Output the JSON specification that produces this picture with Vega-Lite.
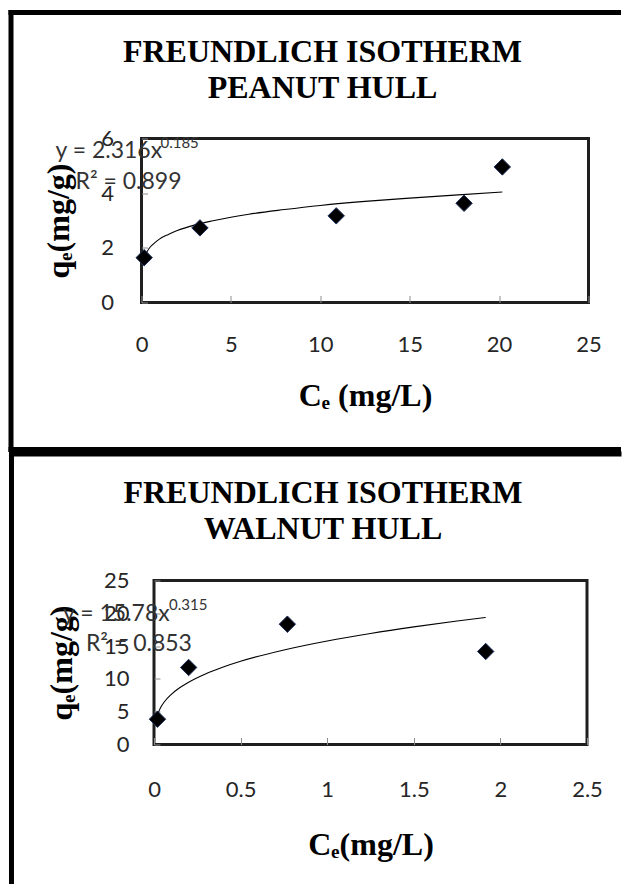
{
  "$schema": "https://vega.github.io/schema/vega-lite/v6.json",
  "padding": {"left": 5.5, "top": 6.5, "right": 0, "bottom": 0},
  "background": "white",
  "spacing": -7,
  "datasets": {
    "peanut": [{"ce": 0.15, "qe": 1.64}, {"ce": 3.27, "qe": 2.73}, {"ce": 10.89, "qe": 3.17}, {"ce": 18.04, "qe": 3.63}, {"ce": 20.18, "qe": 4.96}],
    "peanut_fit": [{"ce": 0.15, "qe": 1.63}, {"ce": 0.3, "qe": 1.85}, {"ce": 0.5, "qe": 2.04}, {"ce": 0.75, "qe": 2.19}, {"ce": 1, "qe": 2.32}, {"ce": 1.5, "qe": 2.49}, {"ce": 2, "qe": 2.63}, {"ce": 3, "qe": 2.84}, {"ce": 4, "qe": 2.99}, {"ce": 5, "qe": 3.12}, {"ce": 6, "qe": 3.23}, {"ce": 8, "qe": 3.40}, {"ce": 10, "qe": 3.55}, {"ce": 12.5, "qe": 3.70}, {"ce": 15, "qe": 3.82}, {"ce": 17.5, "qe": 3.93}, {"ce": 20.18, "qe": 4.04}],
    "walnut": [{"ce": 0.02, "qe": 3.86}, {"ce": 0.2, "qe": 11.74}, {"ce": 0.77, "qe": 18.34}, {"ce": 1.915, "qe": 14.18}],
    "walnut_fit": [{"ce": 0.02, "qe": 4.60}, {"ce": 0.04, "qe": 5.73}, {"ce": 0.06, "qe": 6.51}, {"ce": 0.1, "qe": 7.64}, {"ce": 0.15, "qe": 8.68}, {"ce": 0.2, "qe": 9.50}, {"ce": 0.3, "qe": 10.80}, {"ce": 0.4, "qe": 11.82}, {"ce": 0.5, "qe": 12.69}, {"ce": 0.75, "qe": 14.41}, {"ce": 1, "qe": 15.78}, {"ce": 1.25, "qe": 16.93}, {"ce": 1.5, "qe": 17.93}, {"ce": 1.75, "qe": 18.82}, {"ce": 1.915, "qe": 19.36}],
    "one": [{}],
    "eq_peanut": [{"label": "y = 2.316x", "exp": "0.185", "r2": "R² = 0.899"}],
    "eq_walnut": [{"label": "y = 15.78x", "exp": "0.315", "r2": "R² = 0.853"}]
  },
  "vconcat": [
    {
      "width": 447,
      "height": 164,
      "title": {"text": ["FREUNDLICH ISOTHERM", "PEANUT HULL"], "font": "Liberation Serif", "fontSize": 32, "fontWeight": "bold", "color": "black", "lineHeight": 36, "baseline": "bottom", "anchor": "middle", "frame": "bounds", "offset": -127.6, "dx": 7.75},
      "layer": [
        {"data": {"name": "one"}, "mark": {"type": "rule", "color": "black", "strokeWidth": 5, "strokeCap": "square"},
         "encoding": {"x": {"datum": -7.299, "type": "quantitative", "scale": {"domain": [0, 25], "nice": false, "zero": false}, "axis": {"title": "Cₑ (mg/L)", "values": [0, 5, 10, 15, 20, 25], "labelPadding": 39, "titlePadding": 25}}, "x2": {"datum": 26.678},
                      "y": {"datum": 10.61, "type": "quantitative", "scale": {"domain": [0, 6], "nice": false, "zero": false}, "axis": {"title": "qₑ(mg/g)", "values": [0, 2, 4, 6], "labelPadding": 34, "titlePadding": 25, "tickSize": -6}}}},
        {"data": {"name": "one"}, "mark": {"type": "rule", "color": "black", "strokeWidth": 5, "strokeCap": "square"},
         "encoding": {"x": {"datum": -7.299, "type": "quantitative", "scale": {"domain": [0, 25], "nice": false, "zero": false}, "axis": {"title": "Cₑ (mg/L)", "values": [0, 5, 10, 15, 20, 25], "labelPadding": 39, "titlePadding": 25}}, "x2": {"datum": 26.678},
                      "y": {"datum": -5.379, "type": "quantitative", "scale": {"domain": [0, 6], "nice": false, "zero": false}, "axis": {"title": "qₑ(mg/g)", "values": [0, 2, 4, 6], "labelPadding": 34, "titlePadding": 25, "tickSize": -6}}}},
        {"data": {"name": "one"}, "mark": {"type": "rule", "color": "black", "strokeWidth": 5, "strokeCap": "square"},
         "encoding": {"x": {"datum": -7.299, "type": "quantitative", "scale": {"domain": [0, 25], "nice": false, "zero": false}, "axis": {"title": "Cₑ (mg/L)", "values": [0, 5, 10, 15, 20, 25], "labelPadding": 39, "titlePadding": 25}},
                      "y": {"datum": 10.61, "type": "quantitative", "scale": {"domain": [0, 6], "nice": false, "zero": false}, "axis": {"title": "qₑ(mg/g)", "values": [0, 2, 4, 6], "labelPadding": 34, "titlePadding": 25, "tickSize": -6}}, "y2": {"datum": -5.379}}},
        {"data": {"name": "peanut_fit"}, "mark": {"type": "line", "color": "black", "strokeWidth": 1.1, "interpolate": "monotone"},
         "encoding": {"x": {"field": "ce", "type": "quantitative", "scale": {"domain": [0, 25], "nice": false, "zero": false}, "axis": {"title": "Cₑ (mg/L)", "values": [0, 5, 10, 15, 20, 25], "labelPadding": 39, "titlePadding": 25}},
                      "y": {"field": "qe", "type": "quantitative", "scale": {"domain": [0, 6], "nice": false, "zero": false}, "axis": {"title": "qₑ(mg/g)", "values": [0, 2, 4, 6], "labelPadding": 34, "titlePadding": 25, "tickSize": -6}}}},
        {"data": {"name": "peanut"}, "mark": {"type": "point", "shape": "diamond", "filled": true, "size": 270, "color": "black", "stroke": "#1c2f5c", "strokeWidth": 1, "opacity": 1},
         "encoding": {"x": {"field": "ce", "type": "quantitative", "scale": {"domain": [0, 25], "nice": false, "zero": false}, "axis": {"title": "Cₑ (mg/L)", "values": [0, 5, 10, 15, 20, 25], "labelPadding": 39, "titlePadding": 25}},
                      "y": {"field": "qe", "type": "quantitative", "scale": {"domain": [0, 6], "nice": false, "zero": false}, "axis": {"title": "qₑ(mg/g)", "values": [0, 2, 4, 6], "labelPadding": 34, "titlePadding": 25, "tickSize": -6}}}},
        {"data": {"name": "eq_peanut"}, "mark": {"type": "text", "align": "left", "baseline": "alphabetic", "font": "Lato", "fontSize": 23, "color": "#333333"},
         "encoding": {"x": {"datum": -4.81, "type": "quantitative", "scale": {"domain": [0, 25], "nice": false, "zero": false}, "axis": {"title": "Cₑ (mg/L)", "values": [0, 5, 10, 15, 20, 25], "labelPadding": 39, "titlePadding": 25}},
                      "y": {"datum": 5.30, "type": "quantitative", "scale": {"domain": [0, 6], "nice": false, "zero": false}, "axis": {"title": "qₑ(mg/g)", "values": [0, 2, 4, 6], "labelPadding": 34, "titlePadding": 25, "tickSize": -6}}, "text": {"field": "label"}}},
        {"data": {"name": "eq_peanut"}, "mark": {"type": "text", "align": "left", "baseline": "alphabetic", "font": "Lato", "fontSize": 15, "color": "#333333"},
         "encoding": {"x": {"datum": 1.06, "type": "quantitative", "scale": {"domain": [0, 25], "nice": false, "zero": false}, "axis": {"title": "Cₑ (mg/L)", "values": [0, 5, 10, 15, 20, 25], "labelPadding": 39, "titlePadding": 25}},
                      "y": {"datum": 5.66, "type": "quantitative", "scale": {"domain": [0, 6], "nice": false, "zero": false}, "axis": {"title": "qₑ(mg/g)", "values": [0, 2, 4, 6], "labelPadding": 34, "titlePadding": 25, "tickSize": -6}}, "text": {"field": "exp"}}},
        {"data": {"name": "eq_peanut"}, "mark": {"type": "text", "align": "left", "baseline": "alphabetic", "font": "Lato", "fontSize": 23, "color": "#333333"},
         "encoding": {"x": {"datum": -3.69, "type": "quantitative", "scale": {"domain": [0, 25], "nice": false, "zero": false}, "axis": {"title": "Cₑ (mg/L)", "values": [0, 5, 10, 15, 20, 25], "labelPadding": 39, "titlePadding": 25}},
                      "y": {"datum": 4.14, "type": "quantitative", "scale": {"domain": [0, 6], "nice": false, "zero": false}, "axis": {"title": "qₑ(mg/g)", "values": [0, 2, 4, 6], "labelPadding": 34, "titlePadding": 25, "tickSize": -6}}, "text": {"field": "r2"}}}
      ]
    },
    {
      "spacing": -136.5,
      "hconcat": [
        {"width": 1, "height": 1, "view": {"stroke": null, "fill": null}, "data": {"name": "one"}, "mark": {"type": "point", "opacity": 0, "size": 1}},
        {
          "width": 433,
          "height": 164,
          "title": {"text": ["FREUNDLICH ISOTHERM", "WALNUT HULL"], "font": "Liberation Serif", "fontSize": 32, "fontWeight": "bold", "color": "black", "lineHeight": 36, "baseline": "bottom", "anchor": "middle", "frame": "bounds", "offset": -127.6, "dx": 7.75},
          "layer": [
            {"data": {"name": "one"}, "mark": {"type": "rule", "color": "black", "strokeWidth": 5, "strokeCap": "square"},
             "encoding": {"x": {"datum": -0.8228, "type": "quantitative", "scale": {"domain": [0, 2.5], "nice": false, "zero": false}, "axis": {"title": "Cₑ(mg/L)", "values": [0, 0.5, 1, 1.5, 2, 2.5], "format": "~g", "labelPadding": 41.5, "titlePadding": 29}}, "x2": {"datum": 2.6848},
                          "y": {"datum": 44.284, "type": "quantitative", "scale": {"domain": [0, 25], "nice": false, "zero": false}, "axis": {"title": "qₑ(mg/g)", "values": [0, 5, 10, 15, 20, 25], "labelPadding": 31, "titlePadding": 25, "tickSize": -6}}}},
            {"data": {"name": "one"}, "mark": {"type": "rule", "color": "black", "strokeWidth": 5, "strokeCap": "square"},
             "encoding": {"x": {"datum": -0.8228, "type": "quantitative", "scale": {"domain": [0, 2.5], "nice": false, "zero": false}, "axis": {"title": "Cₑ(mg/L)", "values": [0, 0.5, 1, 1.5, 2, 2.5], "format": "~g", "labelPadding": 41.5, "titlePadding": 29}},
                          "y": {"datum": 44.284, "type": "quantitative", "scale": {"domain": [0, 25], "nice": false, "zero": false}, "axis": {"title": "qₑ(mg/g)", "values": [0, 5, 10, 15, 20, 25], "labelPadding": 31, "titlePadding": 25, "tickSize": -6}}, "y2": {"datum": -20.884}}},
            {"data": {"name": "walnut_fit"}, "mark": {"type": "line", "color": "black", "strokeWidth": 1.1, "interpolate": "monotone"},
             "encoding": {"x": {"field": "ce", "type": "quantitative", "scale": {"domain": [0, 2.5], "nice": false, "zero": false}, "axis": {"title": "Cₑ(mg/L)", "values": [0, 0.5, 1, 1.5, 2, 2.5], "format": "~g", "labelPadding": 41.5, "titlePadding": 29}},
                          "y": {"field": "qe", "type": "quantitative", "scale": {"domain": [0, 25], "nice": false, "zero": false}, "axis": {"title": "qₑ(mg/g)", "values": [0, 5, 10, 15, 20, 25], "labelPadding": 31, "titlePadding": 25, "tickSize": -6}}}},
            {"data": {"name": "walnut"}, "mark": {"type": "point", "shape": "diamond", "filled": true, "size": 270, "color": "black", "stroke": "#1c2f5c", "strokeWidth": 1, "opacity": 1},
             "encoding": {"x": {"field": "ce", "type": "quantitative", "scale": {"domain": [0, 2.5], "nice": false, "zero": false}, "axis": {"title": "Cₑ(mg/L)", "values": [0, 0.5, 1, 1.5, 2, 2.5], "format": "~g", "labelPadding": 41.5, "titlePadding": 29}},
                          "y": {"field": "qe", "type": "quantitative", "scale": {"domain": [0, 25], "nice": false, "zero": false}, "axis": {"title": "qₑ(mg/g)", "values": [0, 5, 10, 15, 20, 25], "labelPadding": 31, "titlePadding": 25, "tickSize": -6}}}},
            {"data": {"name": "eq_walnut"}, "mark": {"type": "text", "align": "left", "baseline": "alphabetic", "font": "Lato", "fontSize": 23, "color": "#333333"},
             "encoding": {"x": {"datum": -0.525, "type": "quantitative", "scale": {"domain": [0, 2.5], "nice": false, "zero": false}, "axis": {"title": "Cₑ(mg/L)", "values": [0, 0.5, 1, 1.5, 2, 2.5], "format": "~g", "labelPadding": 41.5, "titlePadding": 29}},
                          "y": {"datum": 18.86, "type": "quantitative", "scale": {"domain": [0, 25], "nice": false, "zero": false}, "axis": {"title": "qₑ(mg/g)", "values": [0, 5, 10, 15, 20, 25], "labelPadding": 31, "titlePadding": 25, "tickSize": -6}}, "text": {"field": "label"}}},
            {"data": {"name": "eq_walnut"}, "mark": {"type": "text", "align": "left", "baseline": "alphabetic", "font": "Lato", "fontSize": 15, "color": "#333333"},
             "encoding": {"x": {"datum": 0.087, "type": "quantitative", "scale": {"domain": [0, 2.5], "nice": false, "zero": false}, "axis": {"title": "Cₑ(mg/L)", "values": [0, 0.5, 1, 1.5, 2, 2.5], "format": "~g", "labelPadding": 41.5, "titlePadding": 29}},
                          "y": {"datum": 20.43, "type": "quantitative", "scale": {"domain": [0, 25], "nice": false, "zero": false}, "axis": {"title": "qₑ(mg/g)", "values": [0, 5, 10, 15, 20, 25], "labelPadding": 31, "titlePadding": 25, "tickSize": -6}}, "text": {"field": "exp"}}},
            {"data": {"name": "eq_walnut"}, "mark": {"type": "text", "align": "left", "baseline": "alphabetic", "font": "Lato", "fontSize": 23, "color": "#333333"},
             "encoding": {"x": {"datum": -0.393, "type": "quantitative", "scale": {"domain": [0, 2.5], "nice": false, "zero": false}, "axis": {"title": "Cₑ(mg/L)", "values": [0, 0.5, 1, 1.5, 2, 2.5], "format": "~g", "labelPadding": 41.5, "titlePadding": 29}},
                          "y": {"datum": 14.28, "type": "quantitative", "scale": {"domain": [0, 25], "nice": false, "zero": false}, "axis": {"title": "qₑ(mg/g)", "values": [0, 5, 10, 15, 20, 25], "labelPadding": 31, "titlePadding": 25, "tickSize": -6}}, "text": {"field": "r2"}}}
          ]
        }
      ]
    }
  ],
  "config": {
    "view": {"stroke": "#1f1f1f", "strokeWidth": 3},
    "axis": {"grid": false, "domain": false, "tickColor": "#8c8c8c", "tickWidth": 1, "tickSize": -7, "labelFont": "Lato", "labelFontSize": 22, "labelColor": "#262626", "labelFlush": false, "labelOverlap": false, "labelBound": false, "titleFont": "Liberation Serif", "titleFontSize": 32, "titleFontWeight": "bold", "titleColor": "black"}
  }
}
